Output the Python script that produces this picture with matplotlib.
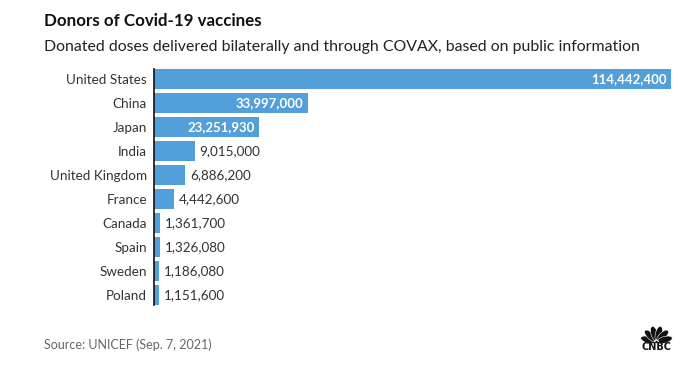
"""Donantes de vacunas Covid-19 (dosis donadas), estilo CNBC."""

import matplotlib

matplotlib.use("Agg")
import matplotlib.pyplot as plt
import numpy as np
from matplotlib.patches import Circle, Ellipse


PAISES = [
    "United States", "China", "Japan", "India", "United Kingdom",
    "France", "Canada", "Spain", "Sweden", "Poland",
]
DOSIS = [
    114442400, 33997000, 23251930, 9015000, 6886200,
    4442600, 1361700, 1326080, 1186080, 1151600,
]
TITULO = "Donors of Covid-19 vaccines"
SUBTITULO = "Donated doses delivered bilaterally and through COVAX, based on public information"
FUENTE = "Source: UNICEF (Sep. 7, 2021)"

AZUL = "#529fd9"
TEXTO = "#333333"
FUENTE_TXT = "Lato"

W, H = 692, 383


def dibujar_logo(fig):
    # ejes en pixeles: 33 x 25
    ax = fig.add_axes([640 / W, 1 - 350 / H, 33 / W, 25 / H])
    ax.set_xlim(0, 33)
    ax.set_ylim(0, 25)
    ax.axis("off")
    base = (16.5, 8.0)
    # plumas del pavo real, en abanico desde la base
    for theta in [165, 135, 105, 75, 45, 15]:
        rad = np.deg2rad(theta)
        centro = (base[0] + 8.5 * np.cos(rad), base[1] + 8.5 * np.sin(rad))
        ax.add_patch(Ellipse(centro, 6.6, 15.5, angle=theta - 90,
                             facecolor="#111111", edgecolor="white", lw=0.4))
    ax.add_patch(Circle(base, 2.4, facecolor="white", edgecolor="none"))
    ax.add_patch(Circle(base, 1.2, facecolor="#111111", edgecolor="none"))
    ax.text(16.5, 2.6, "CNBC", ha="center", va="center", fontsize=7,
            fontweight="bold", color="#111111", family="DejaVu Sans")


def main():
    fig = plt.figure(figsize=(W / 100, H / 100), dpi=100)
    ax = fig.add_axes([154 / W, 1 - 305 / H, (671 - 154) / W, (305 - 69) / H])

    posiciones = list(range(len(PAISES)))
    ax.barh(posiciones, DOSIS, height=0.83, color=AZUL)
    ax.set_xlim(0, max(DOSIS))
    ax.set_ylim(len(PAISES) - 1 + 0.43, -0.43)

    ax.set_yticks(posiciones)
    ax.set_yticklabels(PAISES, fontsize=9.7, color=TEXTO, family=FUENTE_TXT)
    ax.tick_params(axis="y", length=0, pad=5)
    ax.set_xticks([])
    for lado in ["top", "right", "bottom"]:
        ax.spines[lado].set_visible(False)
    ax.spines["left"].set_linewidth(1.2)
    ax.spines["left"].set_color("#111111")

    for pos, valor in zip(posiciones, DOSIS):
        etiqueta = f"{valor:,}"
        if valor > 0.15 * max(DOSIS):
            ax.annotate(etiqueta, (valor, pos), xytext=(-4, 0), textcoords="offset pixels",
                        ha="right", va="center", fontsize=9.5, fontweight="bold",
                        color="white", family=FUENTE_TXT)
        else:
            ax.annotate(etiqueta, (valor, pos), xytext=(5, 0), textcoords="offset pixels",
                        ha="left", va="center", fontsize=9.7, color=TEXTO,
                        family=FUENTE_TXT)

    fig.text(44 / W, 1 - 25.7 / H, TITULO, fontsize=12.2, fontweight="bold",
             color="#111111", family=FUENTE_TXT, va="baseline")
    fig.text(44 / W, 1 - 50.5 / H, SUBTITULO, fontsize=11.4, color="#222222",
             family=FUENTE_TXT, va="baseline")
    fig.text(44 / W, 1 - 349 / H, FUENTE, fontsize=9, color="#666666",
             family=FUENTE_TXT, va="baseline")

    dibujar_logo(fig)
    fig.savefig("out.png", dpi=100, facecolor="white")
    plt.close(fig)


if __name__ == "__main__":
    main()
